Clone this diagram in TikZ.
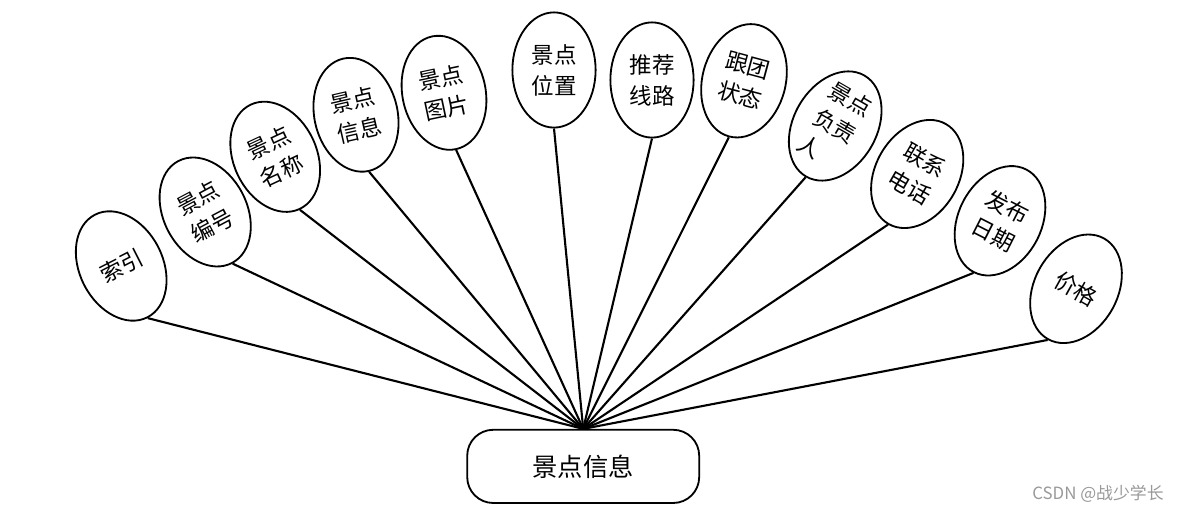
\documentclass[tikz,border=0pt]{standalone}
\usepackage{fontspec}
\setmainfont{Noto Sans CJK SC}
\usetikzlibrary{shapes.geometric}

\begin{document}
\begin{tikzpicture}[
  attr/.style={ellipse, draw=black, line width=1.3pt, fill=white, minimum width=2.08cm, minimum height=2.88cm, inner sep=0pt, align=left, font=\fontsize{16pt}{22pt}\selectfont},
  entity/.style={rectangle, rounded corners=0.65cm, draw=black, line width=1.3pt, fill=white, minimum width=5.8cm, minimum height=1.83cm, font=\fontsize{18pt}{22pt}\selectfont},
  link/.style={draw=black, line width=1.5pt},
  wmark/.style={text=black!40, font=\fontsize{12pt}{14pt}\selectfont, inner sep=0pt}
]
\useasboundingbox (0,0) rectangle (29.525,12.8);

\node[entity] (spot) at (14.58, 1.14) {景点信息};
\node[attr, rotate=27] (idx) at (3.03, 6.15) {索引};
\node[attr, rotate=28] (num) at (5.13, 7.50) {景点\\编号};
\node[attr, rotate=25] (title) at (6.88, 8.88) {景点\\名称};
\node[attr, rotate=13] (info) at (8.90, 9.93) {景点\\信息};
\node[attr, rotate=12] (pic) at (11.10, 10.48) {景点\\图片};
\node[attr] (loc) at (13.85, 11.05) {景点\\位置};
\node[attr] (route) at (16.30, 10.80) {推荐\\线路};
\node[attr, rotate=-15] (tour) at (18.60, 10.78) {跟团\\状态};
\node[attr, rotate=-30] (mgr) at (20.88, 9.65) {景点\\负责\\人};
\node[attr, rotate=-30] (tel) at (22.93, 8.45) {联系\\电话};
\node[attr, rotate=-27] (date) at (25.00, 7.28) {发布\\日期};
\node[attr, rotate=-29] (price) at (26.90, 5.58) {价格};
\draw[link] (idx.south) -- (spot.north);
\draw[link] (num.south) -- (spot.north);
\draw[link] (title.south) -- (spot.north);
\draw[link] (info.south) -- (spot.north);
\draw[link] (pic.south) -- (spot.north);
\draw[link] (loc.south) -- (spot.north);
\draw[link] (route.south) -- (spot.north);
\draw[link] (tour.south) -- (spot.north);
\draw[link] (mgr.south) -- (spot.north);
\draw[link] (tel.south) -- (spot.north);
\draw[link] (date.south) -- (spot.north);
\draw[link] (price.south) -- (spot.north);
\node[wmark] (csdn) at (27.45, 0.46) {CSDN @战少学长};

\end{tikzpicture}
\end{document}
